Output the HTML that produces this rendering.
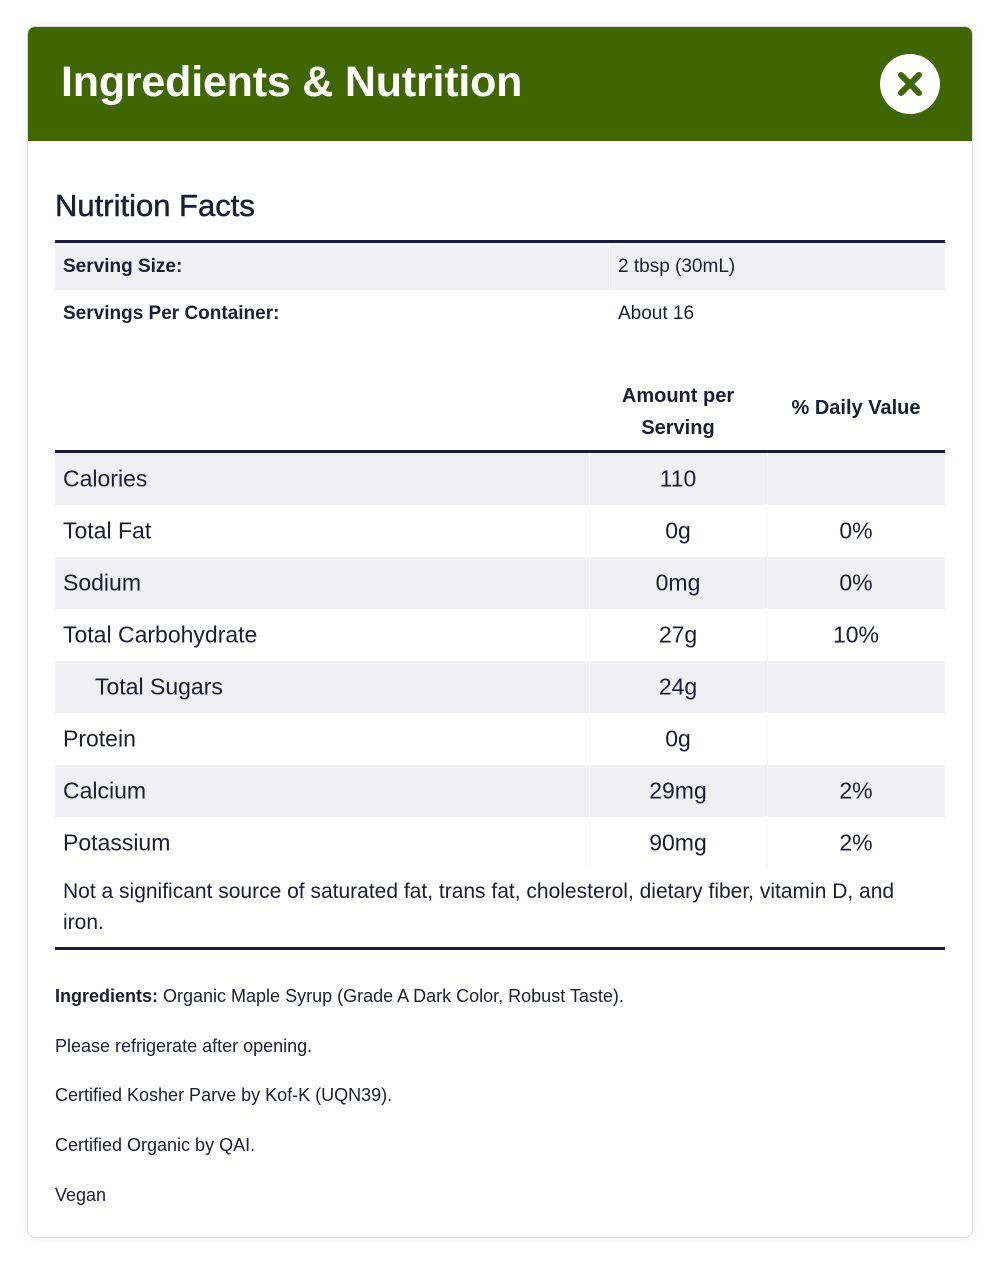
<!DOCTYPE html>
<html><head><style>
body{margin:0;width:1000px;height:1269px;background:#fff;font-family:"Liberation Sans",sans-serif;color:#1c1c34;position:relative;overflow:hidden}
.card{position:absolute;left:27px;top:26px;width:944px;height:1210px;border:1px solid #dcdcdc;border-radius:8px;box-shadow:0 0 12px rgba(0,0,0,0.06);overflow:hidden}
.hdr{position:absolute;left:0;top:0;width:100%;height:114px;background:#3f6600}
.hdr h1{position:absolute;left:33px;top:31px;margin:0;color:#fff;font-size:43px;font-weight:bold;letter-spacing:-0.2px}
.close{position:absolute;left:852px;top:27px;width:60px;height:60px;border-radius:50%;background:#fff}
.t{position:absolute;white-space:nowrap}
.row{position:absolute;left:55px;width:890px}
.g{background:#f0f0f2}
.line{position:absolute;left:55px;width:890px;height:3px;background:#1c1c3a}
.r{font-size:23px;transform:translateY(-50%)}
.c2{left:678px;transform:translate(-50%,-50%)}
.c3{left:856px;transform:translate(-50%,-50%)}
.vs{position:absolute;width:1px;background:#f7f7f8}
.b{font-size:18px}
</style></head><body>
<div class="card">
<div class="hdr"><h1>Ingredients &amp; Nutrition</h1>
<div class="close"><svg width="60" height="60"><path d="M21 21L39 39M39 21L21 39" stroke="#3f6600" stroke-width="6" stroke-linecap="round"/></svg></div></div>
</div>
<div class="t" style="left:55px;top:188px;font-size:31px;-webkit-text-stroke:0.5px #1c1c34">Nutrition Facts</div>
<div class="line" style="top:240px"></div>
<div class="row g" style="top:243px;height:47px"></div>
<div class="vs" style="left:609px;top:243px;height:47px"></div>
<div class="t" style="left:63px;top:256px;font-size:19px;font-weight:bold">Serving Size:</div>
<div class="t" style="left:618px;top:256px;font-size:19px">2 tbsp (30mL)</div>
<div class="t" style="left:63px;top:303px;font-size:19px;font-weight:bold">Servings Per Container:</div>
<div class="t" style="left:618px;top:303px;font-size:19px">About 16</div>
<div class="t" style="left:678px;top:380px;transform:translateX(-50%);font-size:20px;font-weight:bold;text-align:center;line-height:32px">Amount per<br>Serving</div>
<div class="t" style="left:856px;top:397px;transform:translateX(-50%);font-size:20px;font-weight:bold">% Daily Value</div>
<div class="line" style="top:450px"></div>
<div class="row g" style="top:453px;height:52px"></div>
<div class="row g" style="top:557px;height:52px"></div>
<div class="row g" style="top:661px;height:52px"></div>
<div class="row g" style="top:765px;height:52px"></div>
<div class="vs" style="left:589px;top:453px;height:416px"></div>
<div class="vs" style="left:767px;top:453px;height:416px"></div>
<div class="t r" style="left:63px;top:479px">Calories</div><div class="t r c2" style="top:479px">110</div>
<div class="t r" style="left:63px;top:531px">Total Fat</div><div class="t r c2" style="top:531px">0g</div><div class="t r c3" style="top:531px">0%</div>
<div class="t r" style="left:63px;top:583px">Sodium</div><div class="t r c2" style="top:583px">0mg</div><div class="t r c3" style="top:583px">0%</div>
<div class="t r" style="left:63px;top:635px">Total Carbohydrate</div><div class="t r c2" style="top:635px">27g</div><div class="t r c3" style="top:635px">10%</div>
<div class="t r" style="left:95px;top:687px">Total Sugars</div><div class="t r c2" style="top:687px">24g</div>
<div class="t r" style="left:63px;top:739px">Protein</div><div class="t r c2" style="top:739px">0g</div>
<div class="t r" style="left:63px;top:791px">Calcium</div><div class="t r c2" style="top:791px">29mg</div><div class="t r c3" style="top:791px">2%</div>
<div class="t r" style="left:63px;top:843px">Potassium</div><div class="t r c2" style="top:843px">90mg</div><div class="t r c3" style="top:843px">2%</div>
<div class="t" style="left:63px;top:876px;width:845px;white-space:normal;font-size:21px;line-height:31px">Not a significant source of saturated fat, trans fat, cholesterol, dietary fiber, vitamin D, and iron.</div>
<div class="line" style="top:947px"></div>
<div class="t b" style="left:55px;top:986px"><b>Ingredients:</b> Organic Maple Syrup (Grade A Dark Color, Robust Taste).</div>
<div class="t b" style="left:55px;top:1036px">Please refrigerate after opening.</div>
<div class="t b" style="left:55px;top:1085px">Certified Kosher Parve by Kof-K (UQN39).</div>
<div class="t b" style="left:55px;top:1135px">Certified Organic by QAI.</div>
<div class="t b" style="left:55px;top:1185px">Vegan</div>
</body></html>
